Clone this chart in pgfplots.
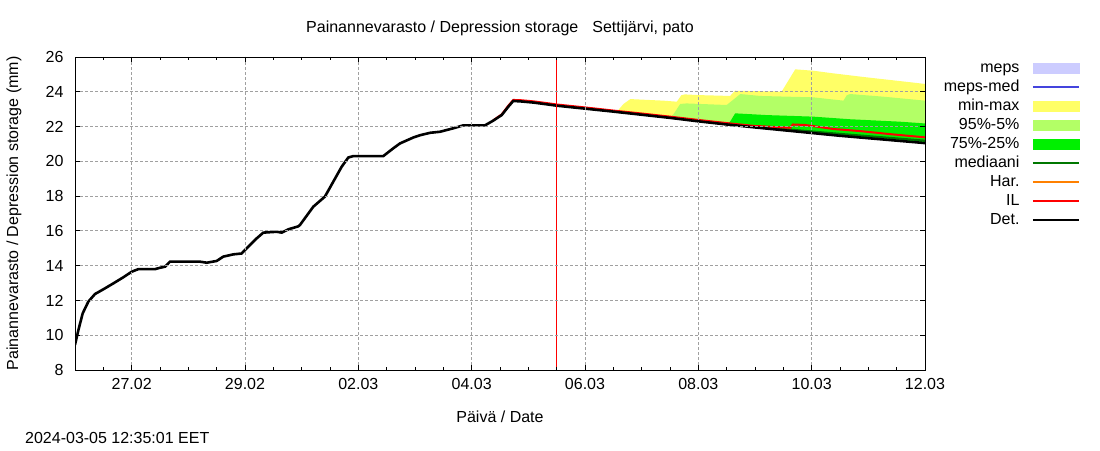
\documentclass[border=0pt]{standalone}
\usepackage{fontspec}
\setmainfont{Liberation Sans}
\usepackage{pgfplots}
\pgfplotsset{compat=1.18}

\definecolor{mepsc}{HTML}{CCCCFF}
\definecolor{mepsmed}{HTML}{4444DD}
\definecolor{minmax}{HTML}{FFFF66}
\definecolor{p95}{HTML}{B3FF66}
\definecolor{p75}{HTML}{00F000}
\definecolor{med}{HTML}{007700}
\definecolor{har}{HTML}{FF8000}
\definecolor{gridc}{HTML}{A0A0A0}
\newcommand\fs{\fontsize{16}{19}\selectfont}
\newcommand\arealeg[1]{\addlegendimage{legend image code/.code={\fill[#1] (0pt,-5pt) rectangle (46pt,5pt);}}}
\newcommand\lineleg[1]{\addlegendimage{legend image code/.code={\draw[#1] (0pt,0pt) -- (46pt,0pt);}}}

\begin{document}
\begin{tikzpicture}
\useasboundingbox (0,0) rectangle (1100pt,450pt);
\begin{axis}[
  at={(75pt,80pt)}, anchor=south west,
  width=850pt, height=313pt, scale only axis,
  xmin=0, xmax=15, ymin=8, ymax=26,
  xtick={1,3,...,15},
  xticklabels={27.02,29.02,02.03,04.03,06.03,08.03,10.03,12.03},
  minor xtick={0.5,1,...,14.5},
  ytick={8,10,...,26},
  grid=major,
  major grid style={gridc, dash pattern=on 3pt off 2pt, line width=0.8pt},
  axis line style={black, line width=0.9pt},
  tick align=inside,
  major tick length=5pt, minor tick length=3pt,
  every tick/.style={black, line width=0.8pt},
  axis on top,
  /pgf/number format/assume math mode=true,
  tick label style={font=\fs},
  xticklabel style={yshift=-5pt},
  yticklabel style={xshift=-8pt},
  title={Painannevarasto / Depression storage\hspace{14pt}Settijärvi, pato},
  every axis title/.style={at={(axis description cs:0.5,1.0767)}, anchor=base, font=\fs},
  xlabel={Päivä / Date},
  every axis x label/.style={at={(axis description cs:0.5,-0.169)}, anchor=base, font=\fs},
  ylabel={Painannevarasto / Depression storage (mm)},
  every axis y label/.style={at={(axis description cs:-0.0718,0.5)}, rotate=90, anchor=center, font=\fs},
  legend style={draw=none, fill=none, inner sep=0pt, outer sep=0pt,
    at={(axis description cs:1.1824,0.9936)}, anchor=north east,
    font=\fs, row sep=1pt, column sep=11pt,
    nodes={inner sep=1pt, text height=12pt, text depth=4pt}},
  legend cell align=right,
  legend plot pos=right,
]

% min-max band (upper edge, then lower edge backwards)
\addplot[fill=minmax, draw=none, forget plot] coordinates {
(9.5,22.87) (9.58,22.92) (9.68,23.3) (9.8,23.58) (10.38,23.49) (10.62,23.43)
(10.7,23.8) (10.76,23.85) (11.0,23.81) (11.56,23.76) (11.65,24.06) (12.47,24.01)
(12.56,24.49) (12.71,25.29) (13.03,25.21) (13.38,25.06) (13.97,24.83) (14.79,24.53) (15,24.45)
(15,21.03) (14.5,21.17) (14,21.31) (13.5,21.45) (13,21.61) (12.5,21.77) (12,21.93)
(11.5,22.1) (11,22.28) (10.5,22.48) (10,22.66) (9.5,22.84)};

% 95%-5% band
\addplot[fill=p95, draw=none, forget plot] coordinates {
(10.5,22.52) (10.56,22.7) (10.68,23.3) (10.79,23.33) (11.5,23.24) (11.6,23.5)
(11.74,23.87) (12.09,23.76) (13.03,23.68) (13.56,23.49) (13.62,23.8) (13.68,23.87)
(14.26,23.72) (15,23.49)
(15,21.05) (14.5,21.19) (14,21.33) (13.5,21.47) (13,21.63) (12.5,21.79) (12,21.95)
(11.5,22.12) (11,22.3) (10.5,22.5)};

% 75%-25% band
\addplot[fill=p75, draw=none, forget plot] coordinates {
(11.5,22.13) (11.56,22.28) (11.65,22.76) (12.21,22.66) (13.03,22.57) (13.68,22.42)
(14.56,22.28) (15,22.18)
(15,21.08) (14.5,21.21) (14,21.35) (13.5,21.49) (13,21.64) (12.5,21.8) (12,21.96) (11.5,22.12)};

% mediaani
\addplot[med, line width=2pt, forget plot] coordinates {
(9.5,22.87) (10.5,22.53) (11.5,22.17) (12,22.0) (12.5,21.86) (13,21.72) (13.5,21.58)
(14,21.45) (14.5,21.32) (15,21.19)};

% IL
\addplot[red, line width=2pt, forget plot] coordinates {
(7.38,22.36) (7.53,22.7) (7.646,23.2) (7.734,23.53) (7.853,23.52) (8.088,23.45)
(8.324,23.35) (8.5,23.27) (9,23.1) (9.5,22.92) (10,22.75) (10.5,22.57) (11,22.38)
(11.5,22.2) (12,22.03) (12.09,22.02) (12.62,21.93) (12.67,22.12) (12.88,22.09)
(13.02,22.03) (13.38,21.86) (13.85,21.74) (14.43,21.55) (15,21.38)};

% Det.
\addplot[black, line width=2.6pt, forget plot] coordinates {
(0,9.45) (0.06,10.3) (0.136,11.26) (0.235,11.93) (0.353,12.37) (0.5,12.64)
(0.676,12.98) (0.852,13.33) (1.0,13.65) (1.117,13.8) (1.412,13.8) (1.5,13.88)
(1.588,13.94) (1.676,14.23) (2.206,14.23) (2.324,14.17) (2.5,14.27) (2.617,14.52)
(2.794,14.65) (2.94,14.7) (3.058,15.09) (3.206,15.57) (3.323,15.9) (3.559,15.95)
(3.647,15.9) (3.764,16.09) (3.94,16.26) (3.97,16.34) (4.205,17.39) (4.41,17.97)
(4.558,18.83) (4.706,19.69) (4.823,20.22) (4.91,20.3) (5.44,20.3) (5.617,20.75)
(5.735,21.03) (5.97,21.37) (6.088,21.5) (6.264,21.64) (6.44,21.7) (6.676,21.9)
(6.852,22.07) (7.235,22.07) (7.38,22.34) (7.53,22.66) (7.646,23.14) (7.734,23.47)
(7.853,23.45) (8.088,23.38) (8.324,23.28) (8.5,23.2) (9,23.03) (9.5,22.86)
(10,22.68) (10.5,22.5) (11,22.3) (11.5,22.12) (12,21.95) (12.5,21.79) (13,21.63)
(13.5,21.47) (14,21.33) (14.5,21.19) (15,21.05)};

% current time
\addplot[red, line width=1.2pt, forget plot] coordinates {(8.49,8) (8.49,26)};

\arealeg{mepsc} \addlegendentry{meps}
\lineleg{mepsmed, line width=1.5pt} \addlegendentry{meps-med}
\arealeg{minmax} \addlegendentry{min-max}
\arealeg{p95} \addlegendentry{95\%-5\%}
\arealeg{p75} \addlegendentry{75\%-25\%}
\lineleg{med, line width=2pt} \addlegendentry{mediaani}
\lineleg{har, line width=2pt} \addlegendentry{Har.}
\lineleg{red, line width=2pt} \addlegendentry{IL}
\lineleg{black, line width=2.6pt} \addlegendentry{Det.}
\end{axis}
\node[anchor=base west, font=\fs, inner sep=0pt] at (25pt,7pt) {2024-03-05 12:35:01 EET};
\end{tikzpicture}
\end{document}
